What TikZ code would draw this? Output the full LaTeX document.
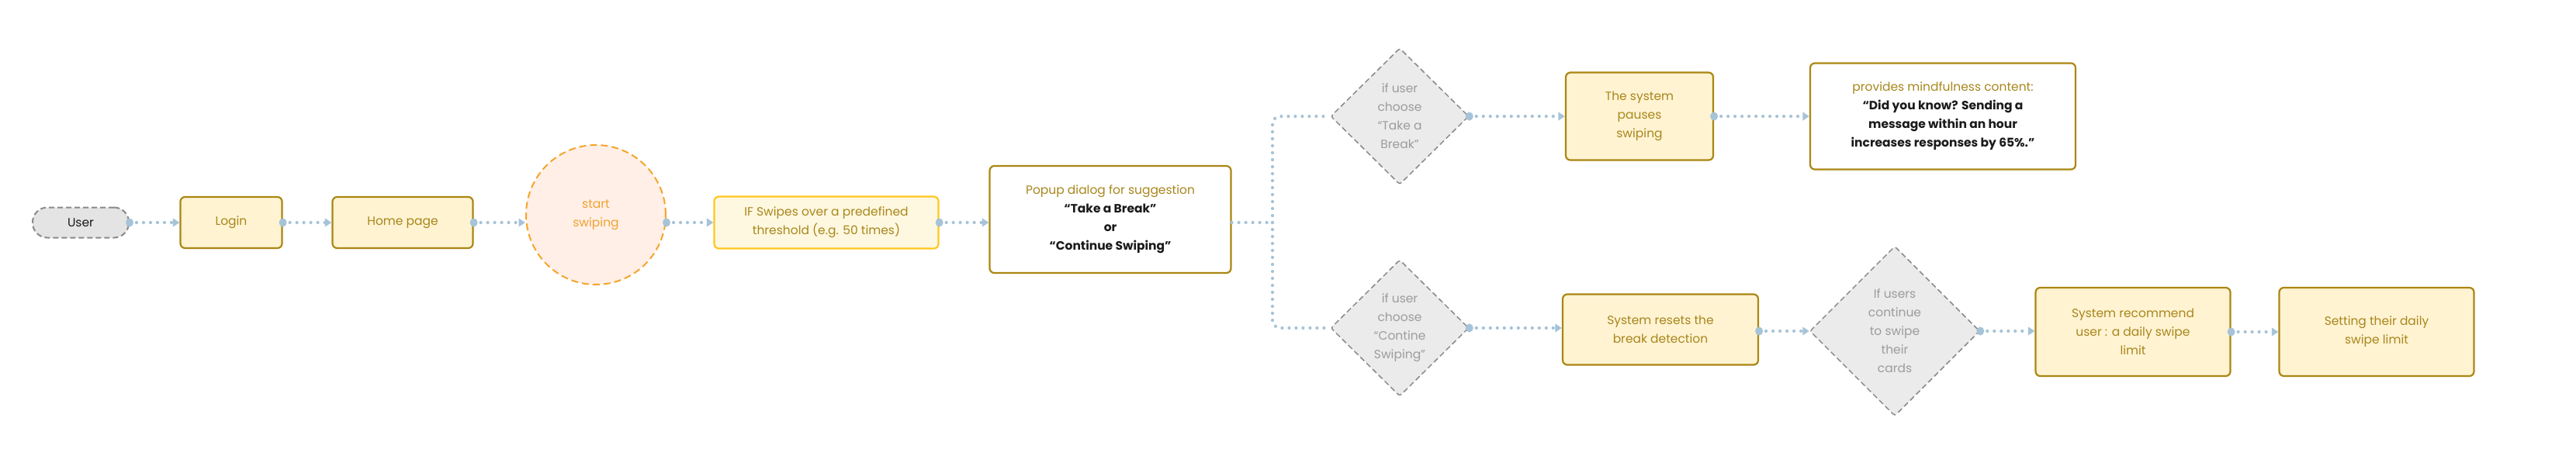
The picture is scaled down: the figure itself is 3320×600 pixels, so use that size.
\documentclass[tikz,border=0pt]{standalone}
\usepackage{fontspec}
\setmainfont{Poppins}
\usetikzlibrary{shapes.geometric,arrows.meta}
\definecolor{goldline}{HTML}{AB8612}
\definecolor{goldtext}{HTML}{A8861C}
\definecolor{boxfill}{HTML}{FFF3D2}
\definecolor{iffill}{HTML}{FFF8E0}
\definecolor{ifline}{HTML}{FFC61F}
\definecolor{peach}{HTML}{FFEFE6}
\definecolor{orangeline}{HTML}{F5A52C}
\definecolor{orangetext}{HTML}{F0A232}
\definecolor{decfill}{HTML}{EBEBEB}
\definecolor{decline}{HTML}{8A8A8A}
\definecolor{dectext}{HTML}{9C9C9C}
\definecolor{userfill}{HTML}{E4E4E4}
\definecolor{conn}{HTML}{A6C3D8}
\definecolor{ink}{HTML}{1A1A1A}
\newcommand\bk[1]{{\bfseries\color{ink}#1}}
\begin{document}
\begin{tikzpicture}[x=1pt,y=-1pt,
  every node/.style={font=\fontsize{15.5pt}{24pt}\selectfont, align=center, inner sep=0pt},
  proc/.style={rectangle, rounded corners=6pt, draw=goldline, line width=2.2pt, fill=boxfill, text=goldtext},
  notebox/.style={proc, fill=white},
  dec/.style={diamond, draw=decline, line width=1.5pt, dash pattern=on 7pt off 4pt, fill=decfill, text=dectext, rounded corners=3pt},
  userbox/.style={rectangle, rounded corners=19pt, draw=decline, line width=2pt, dash pattern=on 7pt off 4pt, fill=userfill, text=ink},
  startbox/.style={circle, draw=orangeline, line width=2pt, dash pattern=on 9pt off 5pt, fill=peach, text=orangetext},
  flow/.style={draw=conn, line width=4.2pt, line cap=round, dash pattern=on 0pt off 9pt},
  arr/.style={flow, -{Triangle[length=8.5pt,width=10.5pt]}},
  dotc/.style={fill=conn}
]
\useasboundingbox (0,0) rectangle (3320,600);

% main row
\node[userbox, minimum width=124pt, minimum height=39pt] (user) at (104,287) {User};
\node[proc, minimum width=131pt, minimum height=66pt] (login) at (298,287) {Login};
\node[proc, minimum width=181pt, minimum height=66pt] (home) at (519,287) {Home page};
\node[startbox, minimum size=180pt] (swipe) at (768,277) {start\\swiping};
\node[proc, draw=ifline, fill=iffill, minimum width=289pt, minimum height=67pt] (ifsw) at (1065,287) {IF Swipes over a predefined\\threshold (e.g. 50 times)};
\node[notebox, minimum width=311pt, minimum height=138pt] (popup) at (1431,283) {Popup dialog for suggestion\\\bk{“Take a Break”}\\\bk{or}\\\bk{“Continue Swiping”}};

% top branch
\node[dec, minimum width=178pt, minimum height=176pt] (d1) at (1804,150) {if user\\choose\\“Take a\\Break”};
\node[proc, minimum width=190pt, minimum height=113pt] (pause) at (2113,150) {The system\\pauses\\swiping};
\node[notebox, minimum width=342pt, minimum height=137pt] (mind) at (2504,150) {provides mindfulness content:\\\bk{“Did you know? Sending a}\\\bk{message within an hour}\\\bk{increases responses by 65\%.”}};

% bottom branch
\node[dec, minimum width=178pt, minimum height=176pt] (d2) at (1804,423) {if user\\choose\\“Contine\\Swiping”};
\node[proc, minimum width=252pt, minimum height=91pt] (reset) at (2140,425) {System resets the\\break detection};
\node[dec, minimum width=219pt, minimum height=219pt] (d3) at (2442,427) {If users\\continue\\to swipe\\their\\cards};
\node[proc, minimum width=251pt, minimum height=114pt] (recom) at (2749,428) {System recommend\\user : a daily swipe\\limit};
\node[proc, minimum width=251pt, minimum height=114pt] (limit) at (3063,428) {Setting their daily\\swipe limit};

\coordinate (j) at (1640,287);

% connectors
\draw[arr] (user.east) -- (login.west);
\draw[arr] (login.east) -- (home.west);
\draw[arr] (home.east) -- (home.east -| swipe.west);
\draw[arr] (swipe.east |- home.east) -- (ifsw.west);
\draw[arr] (ifsw.east) -- (ifsw.east -| popup.west);
\draw[flow] (popup.east |- ifsw.east) -- (j);
\draw[flow, rounded corners=10pt] (j) |- (d1.west);
\draw[flow, rounded corners=10pt] (j) |- (d2.west);
\draw[arr] (d1.east) -- (pause.west);
\draw[arr] (pause.east) -- (mind.west);
\draw[arr] (d2.east) -- (d2.east -| reset.west);
\draw[arr] (reset.east |- d3.west) -- (d3.west);
\draw[arr] (d3.east) -- (d3.east -| recom.west);
\draw[arr] (recom.east) -- (limit.west);

% start dots
\foreach \p in {(user.east),(login.east),(home.east),(swipe.east |- home.east),(ifsw.east),(d1.east),(pause.east),(d2.east),(reset.east |- d3.west),(d3.east),(recom.east)}
  \fill[dotc] \p ellipse [x radius=5pt, y radius=5.5pt];
\end{tikzpicture}
\end{document}
